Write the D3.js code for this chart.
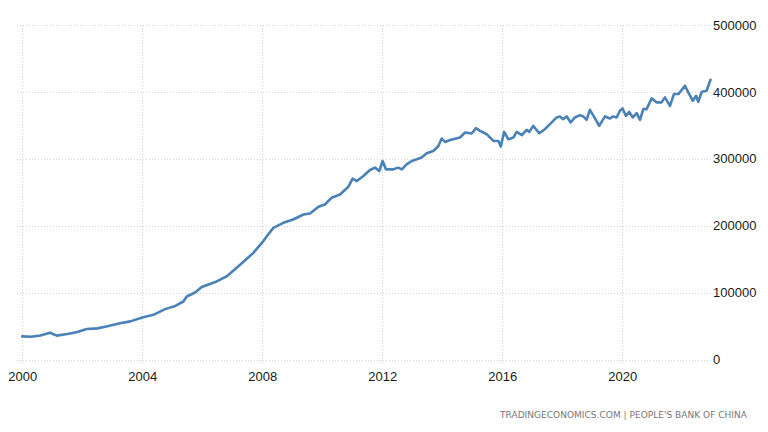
<!DOCTYPE html>
<html><head><meta charset="utf-8">
<script src="https://cdn.jsdelivr.net/npm/d3@7"></script>
<style>
html,body{margin:0;padding:0;background:#fff;}
svg{display:block;}
</style></head>
<body>
<svg id="c" width="768" height="432"></svg>
<script>
const years = [2000.00,2000.30,2000.60,2000.92,2001.15,2001.50,2001.80,2002.15,2002.50,2002.80,2003.26,2003.60,2004.03,2004.37,2004.76,2005.10,2005.37,2005.48,2005.76,2005.98,2006.48,2006.81,2007.26,2007.70,2008.03,2008.15,2008.37,2008.70,2009.03,2009.37,2009.59,2009.87,2010.09,2010.31,2010.59,2010.87,2011.01,2011.15,2011.37,2011.59,2011.76,2011.90,2012.01,2012.12,2012.37,2012.53,2012.65,2012.81,2012.98,2013.15,2013.31,2013.48,2013.70,2013.87,2013.98,2014.09,2014.26,2014.59,2014.76,2014.98,2015.12,2015.26,2015.48,2015.70,2015.87,2015.95,2016.06,2016.20,2016.37,2016.48,2016.65,2016.81,2016.90,2017.03,2017.23,2017.42,2017.59,2017.81,2017.92,2018.03,2018.15,2018.28,2018.42,2018.59,2018.70,2018.81,2018.92,2019.09,2019.23,2019.42,2019.59,2019.70,2019.81,2019.92,2020.01,2020.12,2020.23,2020.35,2020.48,2020.59,2020.70,2020.81,2020.98,2021.15,2021.31,2021.42,2021.59,2021.72,2021.87,2022.09,2022.20,2022.35,2022.46,2022.53,2022.65,2022.81,2022.94];
const values = [34500,34000,36000,40000,35700,38000,40800,45700,46500,49200,54300,57000,63300,66750,75300,80000,86700,94200,100200,108300,116700,124200,141750,159300,176700,184200,196800,204300,209250,216750,218250,228300,231750,241800,246750,258300,270300,266700,274200,283200,286800,281700,296700,284250,284250,286800,284250,291750,296700,299250,301800,308250,311700,319200,330300,325200,328200,331800,339300,337800,345750,341700,336750,326700,326700,318300,340200,329250,331800,340200,335250,343200,340200,349200,338250,344250,351750,361800,363300,359250,363300,354300,361800,365250,363300,358200,373200,360300,349200,363300,360300,363300,361800,371700,375300,364200,370200,361800,368250,358200,374250,374250,390300,384300,384300,391800,379200,396750,396750,409200,399300,386700,394200,385200,400200,401700,418200];
const xTicks = [2000,2004,2008,2012,2016,2020];
const yTicks = [0,100000,200000,300000,400000,500000];
const sourceText = "TRADINGECONOMICS.COM | PEOPLE'S BANK OF CHINA";

const svg = d3.select("#c");
const x = d3.scaleLinear().domain([2000, 2023]).range([22.3, 712.3]);
const y = d3.scaleLinear().domain([0, 500000]).range([359.5, 25]);

// horizontal grid
svg.append("g").selectAll("line").data(yTicks).join("line")
  .attr("x1", 17).attr("x2", 711)
  .attr("y1", d => Math.round(y(d)) + 0.5).attr("y2", d => Math.round(y(d)) + 0.5)
  .attr("stroke", "#d4d4d4").attr("stroke-width", 1).attr("stroke-dasharray", "1,2");

// vertical grid
svg.append("g").selectAll("line").data(xTicks).join("line")
  .attr("x1", d => Math.round(x(d)) + 0.5).attr("x2", d => Math.round(x(d)) + 0.5)
  .attr("y1", 25).attr("y2", 364)
  .attr("stroke", "#d4d4d4").attr("stroke-width", 1).attr("stroke-dasharray", "1,2");

// x axis labels
const xAxis = d3.axisBottom(x).tickValues(xTicks).tickFormat(d3.format("d")).tickSize(0).tickPadding(0);
const gx = svg.append("g").attr("transform", "translate(0,372)").call(xAxis);
gx.select(".domain").remove();
gx.selectAll("text").attr("font-family", "'Liberation Sans', Arial, sans-serif")
  .attr("font-size", 13).attr("fill", "#1a1a1a").attr("dy", "0.71em");

// y axis labels on right
const yAxis = d3.axisRight(y).tickValues(yTicks).tickFormat(d3.format("d")).tickSize(0).tickPadding(0);
const gy = svg.append("g").attr("transform", "translate(713,0)").call(yAxis);
gy.select(".domain").remove();
gy.selectAll("text").attr("font-family", "'Liberation Sans', Arial, sans-serif")
  .attr("font-size", 13).attr("fill", "#1a1a1a").attr("dy", "0.32em");

// line
const data = years.map((yr, i) => [yr, values[i]]);
svg.append("path").datum(data)
  .attr("d", d3.line().x(d => x(d[0])).y(d => y(d[1])).curve(d3.curveLinear))
  .attr("fill", "none").attr("stroke", "#4a81b6").attr("stroke-width", 2.6)
  .attr("stroke-linejoin", "round").attr("stroke-linecap", "round");

// source
svg.append("text").attr("x", 747).attr("y", 418).attr("text-anchor", "end")
  .attr("font-family", "'DejaVu Sans', Verdana, sans-serif").attr("font-size", 9.5)
  .attr("fill", "#777").attr("textLength", 247).attr("lengthAdjust", "spacingAndGlyphs")
  .text(sourceText);
</script>
</body></html>
